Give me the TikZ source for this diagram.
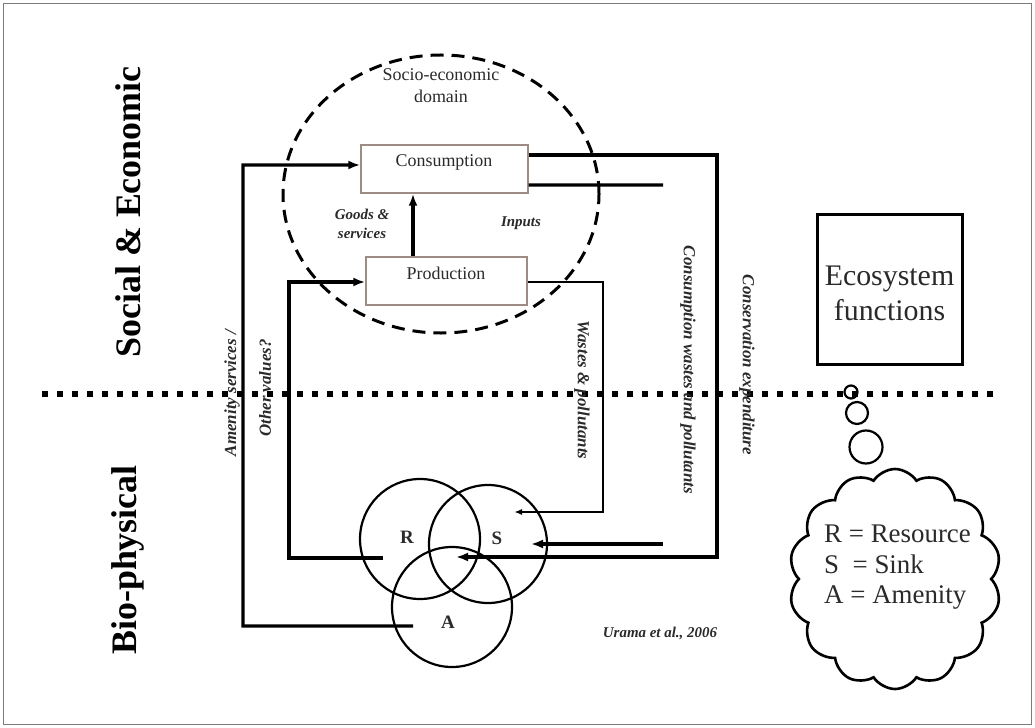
\documentclass[tikz,border=0pt]{standalone}
\usepackage{fontspec}
\setmainfont{Liberation Serif}
\usetikzlibrary{arrows.meta,shapes.symbols,shapes.geometric,calc}
\definecolor{txt}{HTML}{2A2A2A}
\definecolor{boxc}{HTML}{9C8C84}
\definecolor{frame}{HTML}{7A7A7A}
\tikzset{
  conn/.style={line width=3.2bp, draw=black},
  arr/.style={-{Latex[length=12bp,width=9bp]}},
  arrsmall/.style={-{Latex[length=8bp,width=6bp]}},
  procbox/.style={draw=boxc, line width=1.4bp, minimum width=#1, minimum height=48bp, inner sep=0pt},
  boxtxt/.style={font=\fontsize{18}{21}\selectfont, text=txt},
  flowlbl/.style={font=\bfseries\itshape\fontsize{17}{19}\selectfont, text=txt, inner sep=0pt},
  sidelbl/.style={font=\bfseries\fontsize{36}{40}\selectfont, rotate=90, inner sep=0pt},
  venn/.style={draw, line width=2.2bp, circle, minimum size=#1, inner sep=0pt},
  vennlbl/.style={font=\bfseries\fontsize{19}{21}\selectfont, text=txt, inner sep=0pt},
  bubble/.style={draw, line width=2.2bp, circle, minimum size=#1, inner sep=0pt},
}
\begin{document}
\begin{tikzpicture}[x=1bp,y=-1bp]
\useasboundingbox (0,0) rectangle (1035,728);
\fill[white] (0,0) rectangle (1035,728);
\draw[frame, line width=1.5bp] (3.5,3.5) rectangle (1031.5,724.5);

% side labels
\node[sidelbl] (soc) at (128,212) {Social \& Economic};
\node[sidelbl] (bio) at (128,560) {Bio-physical};

% dotted divider
\coordinate (divL) at (42,394);
\coordinate (divR) at (1002,394);
\draw[line width=6bp, dash pattern=on 6bp off 9bp] (divL) -- (divR);

% boxes
\node[procbox=167bp] (cons) at (444.5,169) {};
\node[boxtxt] (constxt) at (444,162) {Consumption};
\node[procbox=161bp] (prod) at (446.5,281) {};
\node[boxtxt] (prodtxt) at (446,273) {Production};

% socio-economic domain
\node[draw, ellipse, dash pattern=on 13bp off 8bp, line width=3bp, minimum width=316bp, minimum height=278bp] (dom) at (441,194) {};
\node[font=\fontsize{18}{22}\selectfont, text=txt, align=center] (domtxt) at (441,86) {Socio-economic\\domain};

% goods arrow
\coordinate (gx) at (413,0);
\draw[conn, arr] (prod.north -| gx) -- (cons.south -| gx);
\node[font=\bfseries\itshape\fontsize{15}{19}\selectfont, text=txt, align=center] (goods) at (362,224) {Goods \&\\services};
\node[font=\bfseries\itshape\fontsize{15}{19}\selectfont, text=txt] (inputs) at (521,223) {Inputs};

% Venn
\node[venn=120bp] (R) at (420,539) {};
\node[venn=118bp] (S) at (488,544) {};
\node[venn=120bp] (A) at (452,607) {};
\node[vennlbl] (Rl) at (407,537) {R};
\node[vennlbl] (Sl) at (497,538) {S};
\node[vennlbl] (Al) at (448,622) {A};

% connector coordinates
\coordinate (ctr) at (717,557);
\coordinate (ctip) at (456,557);
\coordinate (cend) at (663,185);
\coordinate (sstart) at (663,544);
\coordinate (stip) at (531,544);
\coordinate (pc) at (603,512);
\coordinate (ptip) at (514,512);
\coordinate (aend) at (413,626);
\coordinate (lo) at (243,165);
\coordinate (rend) at (383,558);
\coordinate (li) at (289,282);

% consumption outputs
\draw[conn, arr] ([yshift=14bp]cons.east) -| (ctr) -- (ctip);
\draw[conn] ([yshift=-16bp]cons.east) -- (cend);
\draw[line width=4.2bp, arr] (sstart) -- (stip);
% production wastes
\draw[line width=2.6bp, arrsmall] ([yshift=-1bp]prod.east) -| (pc) -- (ptip);
% amenity services
\draw[conn, arr] (aend) -| (lo) -- ([yshift=4bp]cons.west);
% other values
\draw[conn, arr] (rend) -| (li) -- ([yshift=-1bp]prod.west);

% flow labels
\node[flowlbl, rotate=90] (amen) at (232,393) {Amenity services /};
\node[flowlbl, rotate=90] (other) at (265,388) {Other values?};
\node[flowlbl, rotate=-90] (wastes) at (582,390) {Wastes \& pollutants};
\node[flowlbl, rotate=-90] (cwastes) at (688,370) {Consumption wastes and pollutants};
\node[flowlbl, rotate=-90] (conserv) at (747,365) {Conservation expenditure};
\node[font=\bfseries\itshape\fontsize{15}{17}\selectfont, text=txt] (cite) at (660,633) {Urama et al., 2006};

% ecosystem functions
\node[draw, line width=3bp, minimum width=145bp, minimum height=149bp, inner sep=0pt] (eco) at (889.5,289.5) {};
\node[text=txt, font=\fontsize{30}{35}\selectfont, align=center, inner sep=0pt] (ecotxt) at (889.5,293) {Ecosystem\\functions};

% thought bubbles
\node[bubble=13bp] (b1) at (851,392) {};
\node[bubble=22bp] (b2) at (857,413) {};
\node[bubble=33bp] (b3) at (866,447) {};
\node[cloud, draw, line width=2.6bp, cloud puffs=14, cloud puff arc=115, cloud ignores aspect, minimum width=212bp, minimum height=220bp, inner sep=0pt] (cloud) at (895,579) {};
\node[anchor=north west, fill=white, inner sep=2bp, align=left, text=txt, font=\fontsize{27}{30.5}\selectfont] (key) at (822,523) {R = Resource\\S~ = Sink\\A = Amenity};
\end{tikzpicture}
\end{document}
